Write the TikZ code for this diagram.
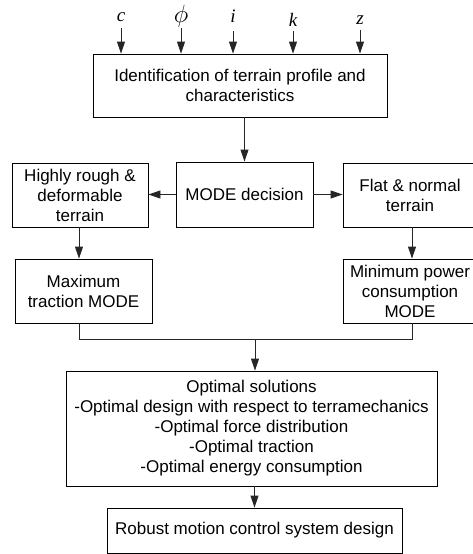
\documentclass[tikz,border=0pt]{standalone}
\usepackage{fontspec}
\setmainfont{Liberation Sans}
\newfontfamily\tmsfont{Liberation Serif}
\usetikzlibrary{arrows.meta,calc}
\begin{document}
\begin{tikzpicture}[x=1pt,y=-1pt,
  box/.style={draw=black,line width=0.9pt,rectangle,inner sep=0pt,align=center,
    font=\fontsize{17}{20}\selectfont},
  arr/.style={draw=black!85,line width=0.9pt,-{Triangle[length=12pt,width=8pt]}},
  ln/.style={draw=black!85,line width=0.9pt},
  lab/.style={inner sep=0pt,font=\fontsize{19}{22}\selectfont\tmsfont\itshape}]
\useasboundingbox (0,0) rectangle (472,554);
\node[box,minimum width=294pt,minimum height=63pt] (top) at (240,85.5)
  {Identification of terrain profile and\\characteristics};
\node[box,minimum width=137pt,minimum height=65pt] (mode) at (244.5,194.5) {MODE decision};
\node[box,minimum width=136pt,minimum height=64pt] (rough) at (80,195)
  {Highly rough \&\\deformable\\terrain};
\node[box,minimum width=134pt,minimum height=64pt] (flat) at (410,195)
  {Flat \& normal\\terrain};
\node[box,minimum width=137pt,minimum height=64pt] (maxm) at (83.5,291)
  {Maximum\\traction MODE};
\node[box,minimum width=134pt,minimum height=64pt] (minm) at (410,291)
  {Minimum power\\consumption\\MODE};
\node[box,minimum width=371pt,minimum height=115pt] (opt) at (251.5,428.5)
  {Optimal solutions\\-Optimal design with respect to terramechanics\\-Optimal force distribution\\-Optimal traction\\-Optimal energy consumption};
\node[box,minimum width=295pt,minimum height=45pt] (rob) at (254.5,530.5)
  {Robust motion control system design};
% inputs
\node[lab] (lc) at (121,17) {c};
\node[lab,font=\fontsize{24}{26}\selectfont] (lphi) at (181,16) {$\phi$};
\node[lab] (li) at (233,16) {i};
\node[lab] (lk) at (293,20) {k};
\node[lab] (lz) at (360,20) {z};
\coordinate (sc) at (121,28);
\coordinate (sphi) at (181,28);
\coordinate (si) at (233,31);
\coordinate (sk) at (293,31);
\coordinate (sz) at (360,30);
\foreach \s in {sc,sphi,si,sk,sz}
  \draw[arr] (\s) -- (\s |- top.north);
% flow
\draw[arr] (top.south -| mode.north) -- (mode.north);
\draw[arr] (mode.west) -- (rough.east |- mode.west);
\draw[arr] (mode.east) -- (flat.west |- mode.east);
\coordinate (ldx) at (79,0);
\coordinate (rdx) at (412,0);
\draw[arr] (ldx |- rough.south) -- (ldx |- maxm.north);
\draw[arr] (rdx |- flat.south) -- (rdx |- minm.north);
\coordinate (mj) at (255,339);
\draw[ln] (ldx |- maxm.south) -- (ldx |- mj) -- (rdx |- mj) -- (rdx |- minm.south);
\draw[arr] (mj) -- (mj |- opt.north);
\draw[arr] (opt.south -| rob.north) -- (rob.north);
\end{tikzpicture}
\end{document}
